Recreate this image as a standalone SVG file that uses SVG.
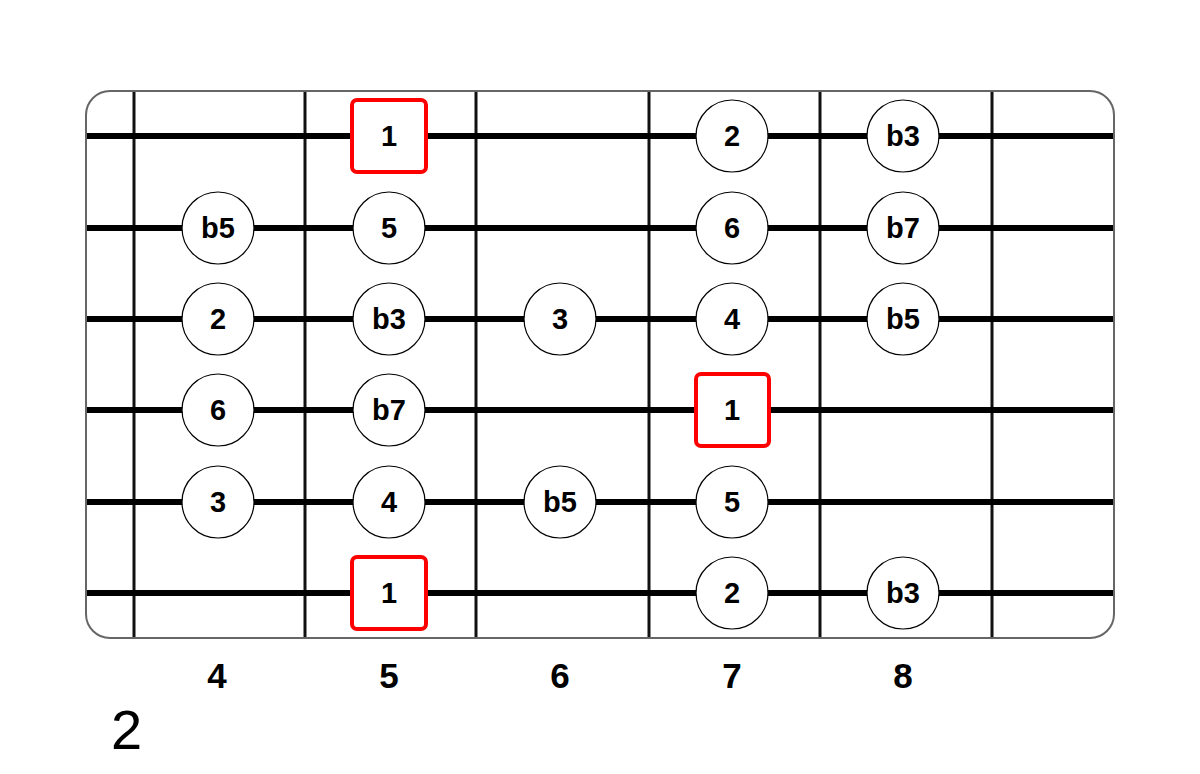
<svg xmlns="http://www.w3.org/2000/svg" width="1200" height="774" viewBox="0 0 1200 774">
<style>
.fret{stroke:#111;stroke-width:3}
.str{stroke:#000;stroke-width:6}
.dot circle{fill:#fff;stroke:#000;stroke-width:1.2}
.root rect{fill:#fff;stroke:#f00;stroke-width:4}
.lbl{font-family:"Liberation Sans",Arial,sans-serif;font-weight:bold;font-size:29px;text-anchor:middle;fill:#000}
.num{font-family:"Liberation Sans",Arial,sans-serif;font-weight:bold;font-size:35px;text-anchor:middle;fill:#000}
</style>
<rect width="1200" height="774" fill="#fff"/>
<rect id="board" x="86" y="91" width="1028" height="547" rx="24" fill="#fff" stroke="#666" stroke-width="2"/>
<g id="connectors">
<line class="fret" x1="134" y1="92" x2="134" y2="637"/>
<line class="fret" x1="305" y1="92" x2="305" y2="637"/>
<line class="fret" x1="476" y1="92" x2="476" y2="637"/>
<line class="fret" x1="649" y1="92" x2="649" y2="637"/>
<line class="fret" x1="820" y1="92" x2="820" y2="637"/>
<line class="fret" x1="992" y1="92" x2="992" y2="637"/>
<line class="str" x1="87" y1="136" x2="1113" y2="136"/>
<line class="str" x1="87" y1="228" x2="1113" y2="228"/>
<line class="str" x1="87" y1="319" x2="1113" y2="319"/>
<line class="str" x1="87" y1="410" x2="1113" y2="410"/>
<line class="str" x1="87" y1="502" x2="1113" y2="502"/>
<line class="str" x1="87" y1="593" x2="1113" y2="593"/>
</g>
<g id="s1-5" class="root"><rect x="352" y="100" width="74" height="72" rx="5"/><text class="lbl" x="389" y="146">1</text></g>
<g id="s1-7" class="dot"><circle cx="732" cy="136" r="36"/><text class="lbl" x="732" y="146">2</text></g>
<g id="s1-8" class="dot"><circle cx="903" cy="136" r="36"/><text class="lbl" x="903" y="146">b3</text></g>
<g id="s2-4" class="dot"><circle cx="218" cy="228" r="36"/><text class="lbl" x="218" y="238">b5</text></g>
<g id="s2-5" class="dot"><circle cx="389" cy="228" r="36"/><text class="lbl" x="389" y="238">5</text></g>
<g id="s2-7" class="dot"><circle cx="732" cy="228" r="36"/><text class="lbl" x="732" y="238">6</text></g>
<g id="s2-8" class="dot"><circle cx="903" cy="228" r="36"/><text class="lbl" x="903" y="238">b7</text></g>
<g id="s3-4" class="dot"><circle cx="218" cy="319" r="36"/><text class="lbl" x="218" y="329">2</text></g>
<g id="s3-5" class="dot"><circle cx="389" cy="319" r="36"/><text class="lbl" x="389" y="329">b3</text></g>
<g id="s3-6" class="dot"><circle cx="560" cy="319" r="36"/><text class="lbl" x="560" y="329">3</text></g>
<g id="s3-7" class="dot"><circle cx="732" cy="319" r="36"/><text class="lbl" x="732" y="329">4</text></g>
<g id="s3-8" class="dot"><circle cx="903" cy="319" r="36"/><text class="lbl" x="903" y="329">b5</text></g>
<g id="s4-4" class="dot"><circle cx="218" cy="410" r="36"/><text class="lbl" x="218" y="420">6</text></g>
<g id="s4-5" class="dot"><circle cx="389" cy="410" r="36"/><text class="lbl" x="389" y="420">b7</text></g>
<g id="s4-7" class="root"><rect x="696" y="374" width="73" height="72" rx="5"/><text class="lbl" x="732" y="420">1</text></g>
<g id="s5-4" class="dot"><circle cx="218" cy="502" r="36"/><text class="lbl" x="218" y="512">3</text></g>
<g id="s5-5" class="dot"><circle cx="389" cy="502" r="36"/><text class="lbl" x="389" y="512">4</text></g>
<g id="s5-6" class="dot"><circle cx="560" cy="502" r="36"/><text class="lbl" x="560" y="512">b5</text></g>
<g id="s5-7" class="dot"><circle cx="732" cy="502" r="36"/><text class="lbl" x="732" y="512">5</text></g>
<g id="s6-5" class="root"><rect x="352" y="557" width="74" height="72" rx="5"/><text class="lbl" x="389" y="603">1</text></g>
<g id="s6-7" class="dot"><circle cx="732" cy="593" r="36"/><text class="lbl" x="732" y="603">2</text></g>
<g id="s6-8" class="dot"><circle cx="903" cy="593" r="36"/><text class="lbl" x="903" y="603">b3</text></g>
<g id="fret-numbers">
<text class="num" x="217" y="688">4</text>
<text class="num" x="389" y="688">5</text>
<text class="num" x="560" y="688">6</text>
<text class="num" x="732" y="688">7</text>
<text class="num" x="903" y="688">8</text>
</g>
<text id="pattern" x="111" y="749" font-family="Liberation Sans,Arial,sans-serif" font-size="56" fill="#000">2</text>
</svg>
